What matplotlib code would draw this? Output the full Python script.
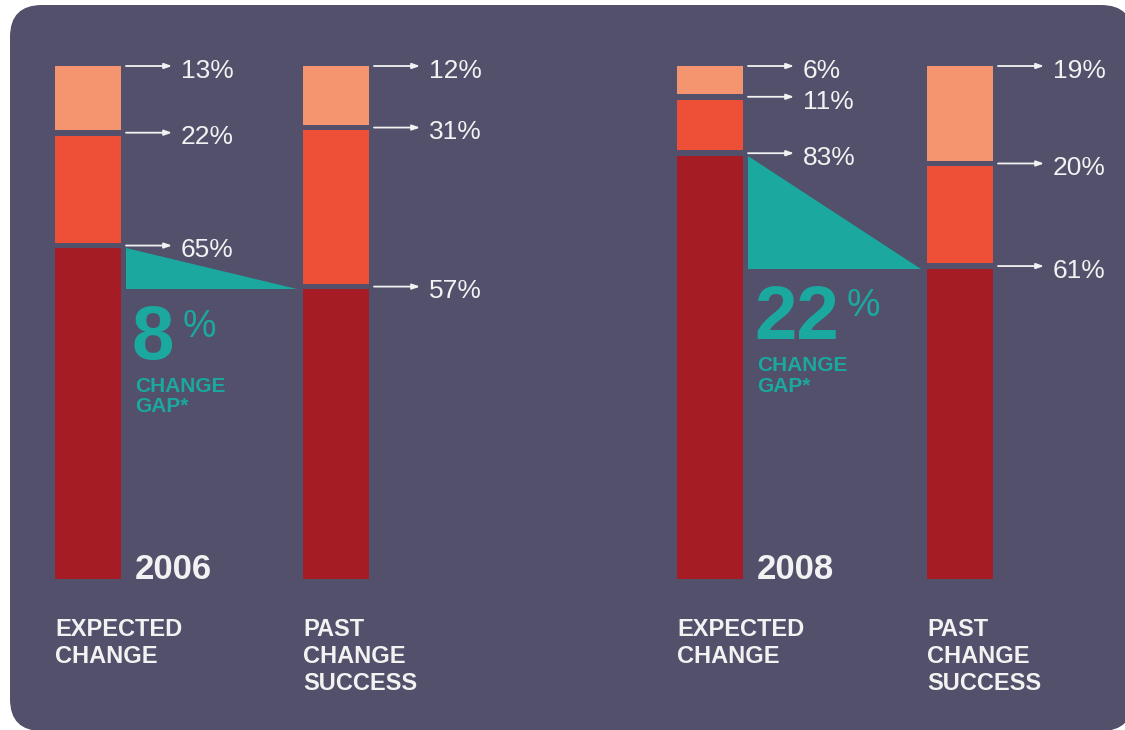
import matplotlib.pyplot as plt
from matplotlib.patches import FancyBboxPatch

plt.rcParams['font.family'] = ['Liberation Sans', 'DejaVu Sans']

# Data (segments listed bottom to top)
years = ['2006', '2008']
expected_2006 = [65, 22, 13]
past_2006 = [57, 31, 12]
expected_2008 = [83, 11, 6]
past_2008 = [61, 20, 19]
bar_labels = ['EXPECTED\nCHANGE', 'PAST\nCHANGE\nSUCCESS']

# Colours
bg = '#52506b'
seg_colors = ['#a51c24', '#ee5037', '#f4956f']
teal = '#1aa89f'
txt = '#f2f2f2'

# Layout
bar_w = 66
gap = 1.1
centers = [[88, 336], [710, 960]]

fig = plt.figure(figsize=(11.25, 7.3), dpi=100)
fig.patch.set_facecolor('white')
panel = FancyBboxPatch((0.1, -0.01), 11.23, 7.26, boxstyle='round,pad=0,rounding_size=0.32',
                       transform=fig.dpi_scale_trans, facecolor=bg, edgecolor='none', zorder=-10)
fig.patches.append(panel)

ax = fig.add_axes([0, 151 / 730, 1, 513 / 730])
ax.set_xlim(0, 1125)
ax.set_ylim(0, 100)
ax.axis('off')
ax.patch.set_alpha(0)


def stacked_bar(xc, vals):
    cum = 0
    n = len(vals)
    for i, v in enumerate(vals):
        lo = cum + (gap / 2 if i > 0 else 0)
        hi = cum + v - (gap / 2 if i < n - 1 else 0)
        ax.bar(xc, hi - lo, bottom=lo, width=bar_w, color=seg_colors[i], linewidth=0)
        cum += v
        xr = xc + bar_w / 2
        ax.annotate('', xy=(xr + 51, cum), xytext=(xr + 5, cum),
                    arrowprops=dict(arrowstyle='-|>,head_length=0.45,head_width=0.16',
                                    color=txt, lw=1.3, shrinkA=0, shrinkB=0))
        ax.annotate(f'{v}%', xy=(xr + 51, cum), xytext=(6.5, -8.5), textcoords='offset points',
                    fontsize=19, color=txt, va='baseline', ha='left')


groups = [(expected_2006, past_2006), (expected_2008, past_2008)]
for g, (exp, past) in enumerate(groups):
    xe, xp = centers[g]
    stacked_bar(xe, exp)
    stacked_bar(xp, past)
    xr = xe + bar_w / 2
    xl = xp - bar_w / 2
    top = exp[0] - gap / 2
    bot = past[0] - gap / 2
    ax.fill([xr + 5, xr + 5, xl - 6], [top, bot, bot], color=teal, linewidth=0)

    num = ax.text(xr + 11, past[0] - 14.2, str(exp[0] - past[0]), fontsize=55,
                  fontweight='bold', color=teal, va='baseline', ha='left')
    ax.annotate('%', xy=(1, 1), xycoords=num, xytext=(6, -3), textcoords='offset points',
                fontsize=27, color=teal, va='top', ha='left')
    ax.annotate('CHANGE\nGAP*', xy=(0, 0), xycoords=num, xytext=(2, -1),
                textcoords='offset points', fontsize=15, fontweight='bold', color=teal,
                va='top', ha='left', linespacing=1.1)

    ax.text(xr + 14, 0, years[g], fontsize=25, fontweight='bold', color=txt,
            va='baseline', ha='left')
    for xc, lab in zip((xe, xp), bar_labels):
        ax.text(xc - bar_w / 2, -7.6, lab, fontsize=17, fontweight='bold', color=txt,
                va='top', ha='left', linespacing=1.22)

fig.savefig('out.png', dpi=100, facecolor=fig.get_facecolor())
